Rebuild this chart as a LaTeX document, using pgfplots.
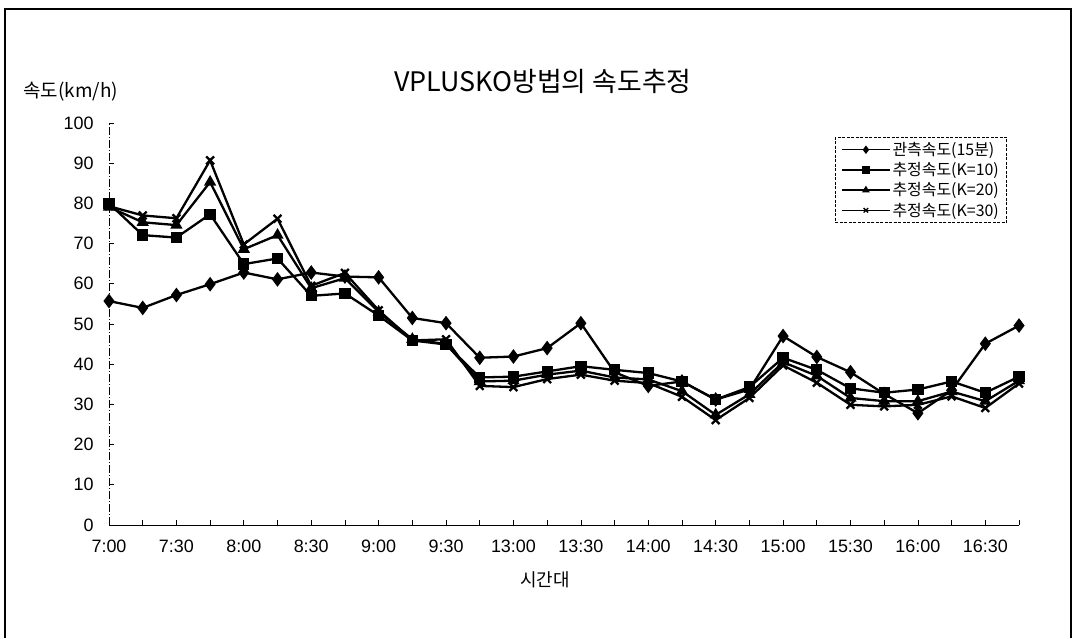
\documentclass[border=0pt]{standalone}
\usepackage{fontspec}
\setmainfont{Liberation Sans}
\newfontfamily\kr{Noto Sans CJK KR}
\usepackage{pgfplots}
\pgfplotsset{compat=1.18}
\usepackage{pgfplotstable}

% speed per 15-minute interval (km/h): observed and estimates for K=10,20,30
\pgfplotstableread{
idx obs  k10  k20  k30
0   55.7 80.0 79.1 79.3
1   54.0 72.1 75.3 77.0
2   57.2 71.5 74.6 76.3
3   59.9 77.3 85.3 90.7
4   62.8 64.9 68.6 69.8
5   61.1 66.3 72.1 76.2
6   62.8 57.0 58.9 59.5
7   61.8 57.6 61.4 62.7
8   61.6 52.1 53.0 53.4
9   51.5 45.9 46.2 45.9
10  50.2 44.9 45.0 46.2
11  41.6 36.7 35.7 34.6
12  41.9 36.9 35.9 34.3
13  44.0 38.2 37.4 36.3
14  50.2 39.5 38.4 37.4
15  38.0 38.6 36.7 35.9
16  34.6 37.8 36.2 35.3
17  35.7 35.7 33.3 31.9
18  31.2 31.2 27.4 26.1
19  33.7 34.3 32.5 31.6
20  47.0 41.6 40.5 39.7
21  41.8 38.6 37.1 35.4
22  38.0 34.0 31.6 29.9
23  32.6 32.9 30.8 29.5
24  27.8 33.7 30.8 29.9
25  33.5 35.7 33.2 32.0
26  45.1 32.9 30.8 29.1
27  49.6 36.9 35.9 35.2
}\speeds

\begin{document}
\begin{tikzpicture}[x=1bp,y=1bp]
\path[use as bounding box] (0,0) rectangle (1075,639);
\draw[line width=1.3bp] (5,1) -- (5,630) -- (1071,630) -- (1071,1);

\node[font=\kr\fontsize{27}{30}\selectfont] at (543,558) {VPLUSKO방법의 속도추정};
\node[anchor=west, font=\kr\fontsize{19}{22}\selectfont] at (20,547) {속도(km/h)};
\node[font=\kr\fontsize{18}{21}\selectfont] at (545,59) {시간대};

\begin{axis}[
  at={(109bp,114bp)}, anchor=south west,
  scale only axis, width=910bp, height=402bp,
  xmin=0, xmax=27, ymin=0, ymax=100,
  clip=false,
  axis x line*=bottom, axis y line*=left,
  x axis line style={line width=0.8bp},
  y axis line style={line width=0.8bp, dash pattern=on 8bp off 2bp on 1bp off 2bp},
  tick align=inside,
  major tick length=5bp,
  tick style={line width=0.7bp, black},
  xtick={0,...,27},
  xticklabels={7:00,,7:30,,8:00,,8:30,,9:00,,9:30,,13:00,,13:30,,14:00,,14:30,,15:00,,15:30,,16:00,,16:30,},
  ytick={0,10,...,100},
  /pgf/number format/assume math mode=true,
  tick label style={font=\fontsize{18}{21}\selectfont},
  xticklabel style={yshift=-11bp},
  yticklabel style={xshift=-12bp},
  every axis plot/.append style={line width=2.3bp, black, mark options={solid, fill=black}},
  legend style={at={(rel axis cs:0.987,0.965)}, anchor=north east,
    draw=black, line width=0.7bp, dash pattern=on 3bp off 1.5bp,
    font=\kr\fontsize{16}{18}\selectfont, row sep=1.5bp, inner xsep=6bp, inner ysep=3bp,
    cells={anchor=west}},
  legend image code/.code={
    \draw[solid, line width=1.3bp, mark repeat=2, mark phase=2, mark size=3.2bp]
      plot coordinates {(0bp,0bp) (24bp,0bp) (48bp,0bp)};},
]
\addplot[mark=diamond*, mark size=5.5bp] table[x=idx, y=obs] {\speeds};
\addlegendentry{관측속도(15분)}
\addplot[mark=square*, mark size=4.5bp] table[x=idx, y=k10] {\speeds};
\addlegendentry{추정속도(K=10)}
\addplot[mark=triangle*, mark size=4.8bp] table[x=idx, y=k20] {\speeds};
\addlegendentry{추정속도(K=20)}
\addplot[mark=x, mark size=5.5bp] table[x=idx, y=k30] {\speeds};
\addlegendentry{추정속도(K=30)}
\end{axis}
\end{tikzpicture}
\end{document}
